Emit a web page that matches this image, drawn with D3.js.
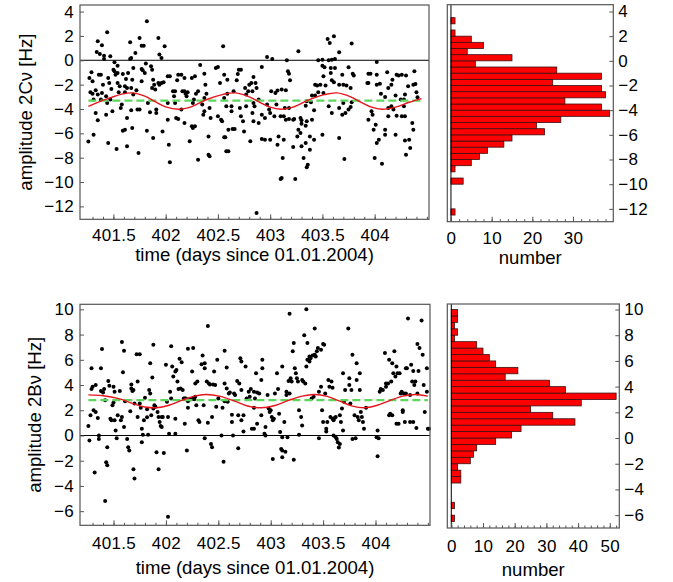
<!DOCTYPE html>
<html>
<head>
<meta charset="utf-8">
<style>
body { margin: 0; background: #fff; }
svg { font-family: "Liberation Sans", Arial, sans-serif; }
.frame { fill: none; stroke: #555; stroke-width: 1.2px; }
.axis path { display: none; }
.axis line { stroke: #555; }
.axis text { font-size: 17px; fill: #000; letter-spacing: 0.3px; }
.title { font-size: 18.6px; fill: #000; }
.dot { fill: #000; }
.fit { fill: none; stroke: #e8141c; stroke-width: 1.4px; }
.mean { fill: none; stroke: #5cd65c; stroke-width: 2.2px; stroke-dasharray: 8,4; }
.zero { stroke: #000; stroke-width: 1px; }
.bar { fill: #ff0000; stroke: #3a1010; stroke-width: 0.8px; }
</style>
</head>
<body>
<svg width="673" height="582"></svg>
<script src="https://cdn.jsdelivr.net/npm/d3@7"></script>
<script>
// ---- data ----
var timeTicks = [401.5, 402, 402.5, 403, 403.5, 404];

// amplitude 2C nu [Hz] vs time
var pointsC = [[401.27,-1.45],[401.29,-0.99],[401.30,-1.73],[401.28,-2.63],[401.30,-2.74],[401.33,-2.47],[401.31,-3.23],[401.33,-4.33],[401.35,-4.93],[401.31,-6.11],[401.26,-6.68],[401.34,0.68],[401.35,1.56],[401.37,0.52],[401.36,-1.18],[401.38,-1.18],[401.35,-2.82],[401.39,1.23],[401.41,0.38],[401.41,0.11],[401.44,2.30],[401.47,0.33],[401.40,-2.00],[401.39,-2.68],[401.38,-3.23],[401.43,-2.96],[401.45,-1.45],[401.46,-1.86],[401.44,-3.51],[401.43,-4.47],[401.45,-6.79],[401.49,-4.19],[401.50,-0.77],[401.51,-0.16],[401.51,-0.90],[401.52,-1.18],[401.48,-2.36],[401.47,-3.23],[401.53,-7.29],[401.54,-0.44],[401.54,-1.04],[401.54,-1.86],[401.56,-2.14],[401.55,-2.63],[401.58,-3.64],[401.57,-3.92],[401.59,-1.12],[401.61,-2.14],[401.63,-2.27],[401.61,-2.63],[401.59,-5.78],[401.61,-5.70],[401.63,-4.74],[401.63,-7.07],[401.66,1.48],[401.66,0.11],[401.67,0.19],[401.64,-1.04],[401.62,-1.53],[401.69,-0.63],[401.68,-1.59],[401.67,-2.27],[401.69,-2.82],[401.67,-4.11],[401.68,-5.56],[401.71,0.60],[401.72,-2.47],[401.73,-4.05],[401.74,-7.62],[401.75,1.84],[401.75,-4.05],[401.77,1.20],[401.79,1.20],[401.77,-0.71],[401.78,-0.82],[401.77,-1.73],[401.80,-1.04],[401.81,-0.27],[401.82,3.20],[401.82,-5.78],[401.83,-3.51],[401.85,-4.27],[401.86,-0.49],[401.87,-0.77],[401.88,-1.59],[401.89,-2.00],[401.87,-2.27],[401.90,-2.41],[401.91,-4.05],[401.91,-4.33],[401.93,1.84],[401.94,0.47],[401.96,0.19],[401.93,-1.86],[401.94,-2.00],[401.96,-1.86],[401.97,-5.84],[401.98,-1.81],[401.99,1.15],[401.88,-6.38],[402.02,-1.32],[402.04,-1.32],[402.02,-3.51],[402.02,-4.88],[402.03,-6.93],[402.04,-8.38],[402.07,-2.55],[402.09,-2.55],[402.08,-2.96],[402.09,-3.51],[402.10,-4.74],[402.12,-4.82],[402.11,-1.64],[402.12,-1.18],[402.15,-1.18],[402.18,-1.45],[402.16,-2.55],[402.15,-4.05],[402.18,-2.55],[402.19,-2.74],[402.20,-2.96],[402.18,-5.15],[402.21,-2.63],[402.23,-6.66],[402.25,-5.42],[402.26,-5.56],[402.28,-5.42],[402.26,-3.51],[402.27,-3.23],[402.25,-1.45],[402.28,-1.32],[402.29,-2.74],[402.31,-2.55],[402.33,-0.38],[402.31,-8.16],[402.37,-1.10],[402.35,-3.64],[402.36,-4.47],[402.38,-2.00],[402.39,-2.74],[402.41,-6.25],[402.41,-7.75],[402.42,-7.89],[402.43,-4.74],[402.42,-3.92],[402.37,-3.10],[402.37,-4.19],[402.48,-0.63],[402.50,-0.55],[402.52,-1.86],[402.50,-4.60],[402.53,-4.88],[402.54,-5.01],[402.55,1.15],[402.56,-6.33],[402.57,-6.33],[402.58,-7.48],[402.60,-7.48],[402.56,-1.18],[402.58,-3.78],[402.56,-3.10],[402.59,-1.59],[402.59,-2.74],[402.60,-5.70],[402.63,-3.78],[402.63,-4.19],[402.64,-5.64],[402.66,-5.64],[402.65,-2.55],[402.68,-1.64],[402.69,-1.12],[402.70,-0.77],[402.72,-0.77],[402.71,-3.92],[402.72,-4.60],[402.74,-5.01],[402.75,-5.84],[402.76,-2.27],[402.77,-2.82],[402.77,-3.78],[402.79,-2.55],[402.80,-2.00],[402.81,-6.66],[402.82,-1.86],[402.83,-4.33],[402.84,-5.01],[402.84,-3.51],
  [403.55,1.75],[403.57,1.42],[403.61,1.97],[403.66,0.66],[403.78,1.37],[403.27,0.74],[402.97,0.27],[403.02,0.11],[403.16,0.00],[403.46,0.00],[403.50,0.05],[403.56,0.00],[403.59,0.05],[403.62,0.11],[404.02,-0.14],[402.92,-0.55],[402.84,-1.37],[402.86,-1.86],[403.17,-0.90],[403.18,-1.10],[403.19,-1.64],[403.15,-2.47],[403.50,-0.44],[403.52,-0.58],[403.51,-1.32],[403.53,-2.08],[403.48,-2.00],[403.45,-2.08],[403.43,-2.00],[403.58,-1.04],[403.59,-1.64],[403.61,-1.81],[403.62,-0.63],[403.66,-2.00],[403.69,-1.18],[403.70,-2.00],[403.73,-2.08],[403.75,-0.58],[403.79,-1.10],[403.80,-1.26],[403.77,-2.27],[403.58,-0.63],[403.94,-1.10],[403.96,-1.10],[404.02,-1.18],[404.12,-0.99],[403.93,-1.86],[403.94,-1.86],[404.02,-2.00],[404.05,-1.92],[404.06,-2.74],[404.10,-3.01],[404.13,-2.27],[404.16,-2.00],[404.17,-1.59],[404.21,-1.18],[404.23,-1.26],[404.26,-1.18],[404.30,-1.26],[404.38,-0.90],[404.37,-2.00],[404.39,-1.95],[404.40,-2.63],[404.41,-3.04],[404.32,-2.14],[404.29,-2.82],[404.28,-3.23],[404.25,-3.23],[404.20,-2.90],[402.83,-2.55],[402.87,-2.27],[402.89,-3.23],[402.85,-3.78],[402.92,-4.47],[402.89,-5.15],[402.95,-4.74],[402.97,-3.64],[402.99,-4.05],[403.00,-4.33],[403.01,-2.55],[403.05,-2.68],[403.07,-2.49],[403.11,-2.41],[403.06,-3.64],[403.04,-4.60],[403.10,-4.60],[403.13,-4.60],[403.14,-3.92],[403.18,-3.92],[403.15,-4.88],[403.18,-4.82],[403.22,-4.88],[403.23,-4.82],[403.29,-4.74],[403.30,-4.93],[403.35,-5.01],[403.40,-4.88],[403.42,-4.11],[403.34,-3.73],[403.35,-3.37],[403.39,-3.45],[403.40,-2.90],[403.43,-2.90],[403.46,-2.63],[403.51,-2.68],[403.30,-5.21],[403.34,-5.37],[403.27,-5.70],[403.29,-5.97],[403.26,-6.25],[403.34,-6.79],[403.38,-6.25],[403.42,-6.52],[402.92,-6.47],[402.95,-6.52],[403.00,-6.52],[403.07,-6.93],[403.08,-6.25],[403.13,-6.52],[403.12,-8.03],[403.10,-9.75],[403.11,-9.67],[403.24,-9.75],[403.22,-7.12],[403.30,-7.07],[403.38,-7.34],[403.32,-8.03],[403.36,-8.58],[403.35,-8.79],[403.71,-8.11],[403.66,-6.38],[403.50,-6.11],[403.56,-3.78],[403.59,-4.33],[403.66,-3.92],[403.69,-4.47],[403.72,-4.33],[403.75,-4.05],[403.77,-3.84],[403.78,-3.45],[403.70,-3.51],[403.94,-4.88],[403.97,-4.19],[403.98,-4.47],[403.99,-5.70],[404.01,-5.29],[404.02,-6.79],[404.04,-6.52],[404.07,-8.49],[404.00,-8.03],[404.10,-6.11],[404.10,-5.70],[404.13,-4.60],[404.13,-3.92],[404.16,-3.78],[404.18,-4.05],[404.20,-6.11],[404.21,-4.55],[404.26,-4.60],[404.28,-3.78],[404.29,-4.60],[404.29,-6.58],[404.30,-7.75],[404.33,-6.52],[404.34,-7.21],[404.36,-5.15],[404.37,-5.70],[402.87,-12.55]];

var fitC = [[401.26,-3.78],[401.35,-3.45],[401.48,-3.05],[401.58,-2.78],[401.68,-2.68],[401.80,-2.95],[401.90,-3.40],[402.00,-3.82],[402.12,-4.02],[402.25,-3.80],[402.40,-3.20],[402.55,-2.80],[402.67,-2.68],[402.80,-3.00],[402.90,-3.45],[403.00,-3.85],[403.10,-4.02],[403.22,-3.85],[403.37,-3.25],[403.52,-2.82],[403.64,-2.68],[403.77,-3.00],[403.87,-3.45],[403.97,-3.85],[404.07,-4.02],[404.20,-3.85],[404.33,-3.45],[404.45,-3.15]];
var meanC = -3.32;

var binsC   = [-12.5,-12,-11.5,-11,-10.5,-10,-9.5,-9,-8.5,-8,-7.5,-7,-6.5,-6,-5.5,-5,-4.5,-4,-3.5,-3,-2.5,-2,-1.5,-1,-0.5,0,0.5,1,1.5,2,2.5,3];
var countsC = [1,0,0,0,0,3,0,1,5,7,9,13,15,23,21,27,39,37,28,38,37,25,37,26,6,15,4,8,5,1,0,1];

// amplitude 2B nu [Hz] vs time
var pointsB = [[401.26,0.75],[401.28,1.60],[401.29,3.68],[401.29,5.33],[401.31,2.00],[401.30,3.87],[401.33,1.87],[401.33,4.00],[401.35,1.39],[401.27,-0.40],[401.36,0.00],[401.36,-0.27],[401.32,-2.93],[401.38,5.33],[401.39,6.85],[401.38,3.52],[401.40,3.41],[401.41,3.68],[401.42,2.80],[401.42,-5.20],[401.44,-0.93],[401.43,-2.13],[401.44,-2.35],[401.45,4.32],[401.46,3.95],[401.47,1.33],[401.48,1.20],[401.50,2.61],[401.50,3.87],[401.51,3.47],[401.49,2.40],[401.51,1.20],[401.52,0.40],[401.53,-0.21],[401.54,1.60],[401.56,3.52],[401.57,1.20],[401.58,1.47],[401.58,7.41],[401.59,5.01],[401.60,6.72],[401.60,0.67],[401.61,2.72],[401.63,-0.27],[401.64,-0.93],[401.65,-1.20],[401.66,1.92],[401.67,4.05],[401.67,3.73],[401.68,3.52],[401.69,3.60],[401.69,-2.67],[401.70,-3.41],[401.70,2.53],[401.72,6.45],[401.73,1.47],[401.73,4.27],[401.75,6.45],[401.75,2.53],[401.76,2.19],[401.77,0.53],[401.77,-0.53],[401.78,0.05],[401.79,1.20],[401.80,2.99],[401.82,2.08],[401.82,1.44],[401.83,0.05],[401.84,3.60],[401.85,5.73],[401.85,3.33],[401.86,1.60],[401.87,4.59],[401.88,2.13],[401.89,2.40],[401.88,7.20],[401.90,2.27],[401.91,-1.33],[401.92,1.87],[401.93,-2.67],[401.93,1.47],[401.94,1.07],[401.95,0.75],[401.96,0.67],[401.96,1.47],[401.97,1.47],[401.98,-1.39],[402.00,5.60],[402.01,2.67],[402.02,1.47],[402.02,-6.45],[402.03,0.13],[402.04,3.47],[402.05,7.07],[402.05,2.93],[402.06,5.47],[402.07,4.67],[402.09,5.07],[402.09,0.13],[402.09,1.33],[402.10,5.20],[402.11,4.27],[402.12,3.68],[402.13,6.08],[402.15,5.81],[402.14,3.73],[402.16,3.60],[402.17,2.93],[402.18,0.93],[402.18,2.93],[402.19,2.93],[402.20,-1.20],[402.21,2.19],[402.21,2.72],[402.21,6.88],[402.23,2.88],[402.24,2.88],[402.25,5.07],[402.26,6.93],[402.26,2.93],[402.27,2.88],[402.28,3.07],[402.28,4.13],[402.29,2.40],[402.30,4.27],[402.31,1.20],[402.32,1.07],[402.34,5.65],[402.35,6.35],[402.36,2.40],[402.37,5.73],[402.37,5.33],[402.37,-0.21],[402.39,4.27],[402.40,8.67],[402.41,4.13],[402.40,1.01],[402.42,4.05],[402.43,-0.67],[402.44,-0.93],[402.44,1.47],[402.45,4.05],[402.46,5.07],[402.47,4.00],[402.48,2.27],[402.49,6.00],[402.50,2.93],[402.53,0.00],[402.54,2.19],[402.55,-2.08],[402.56,4.13],[402.56,6.72],[402.56,2.72],[402.58,5.39],[402.58,3.73],[402.59,2.67],[402.60,3.33],[402.61,3.41],[402.63,1.65],[402.63,1.07],[402.64,0.00],[402.65,3.33],[402.66,3.20],[402.68,4.32],[402.69,1.60],[402.69,-1.01],[402.70,4.13],[402.71,6.13],[402.72,5.87],[402.72,3.60],[402.72,1.20],[402.74,0.32],[402.74,1.60],[402.76,5.47],[402.77,2.93],[402.79,3.47],[402.80,3.07],[402.81,3.68],[402.82,0.53],[402.84,2.19],[402.85,2.93],
  [402.84,3.47],[402.87,3.41],[402.89,3.33],[402.91,4.40],[402.92,5.33],[402.92,6.00],[402.86,4.93],[402.84,0.53],[402.87,0.93],[402.91,1.60],[402.94,0.13],[402.95,0.67],[402.95,0.00],[402.97,3.20],[403.00,2.00],[402.99,1.87],[402.98,2.13],[403.01,1.47],[403.02,1.20],[403.02,-1.87],[403.03,1.33],[403.04,3.33],[403.06,4.93],[403.07,3.68],[403.08,1.73],[403.09,0.27],[403.10,-1.07],[403.11,-1.20],[403.11,5.47],[403.11,-0.13],[403.11,-1.73],[403.14,-1.28],[403.13,1.07],[403.15,3.47],[403.15,3.20],[403.17,4.32],[403.16,-0.13],[403.18,9.65],[403.18,3.33],[403.19,4.53],[403.20,4.27],[403.21,6.67],[403.22,7.33],[403.22,-1.92],[403.23,5.33],[403.24,4.93],[403.25,4.53],[403.26,4.27],[403.27,2.00],[403.27,0.05],[403.29,1.47],[403.30,0.80],[403.30,4.40],[403.31,4.27],[403.32,7.95],[403.34,10.00],[403.33,4.13],[403.34,5.47],[403.35,7.33],[403.35,6.00],[403.37,5.87],[403.37,6.27],[403.38,6.13],[403.39,2.93],[403.40,6.35],[403.41,3.07],[403.42,8.48],[403.42,6.40],[403.43,6.27],[403.44,6.67],[403.45,6.93],[403.46,-0.21],[403.46,3.47],[403.48,3.87],[403.48,6.80],[403.49,2.00],[403.50,7.25],[403.50,1.07],[403.51,7.20],[403.52,3.33],[403.53,0.32],[403.53,0.53],[403.54,1.07],[403.55,4.40],[403.56,3.87],[403.57,1.47],[403.58,4.27],[403.59,1.33],[403.59,3.79],[403.60,0.00],[403.60,1.20],[403.61,1.39],[403.62,-0.13],[403.62,1.47],[403.63,-0.27],[403.64,-0.53],[403.65,-0.96],[403.66,1.60],[403.66,-0.67],[403.67,1.07],[403.68,2.13],[403.69,0.40],[403.69,4.93],[403.70,2.67],[403.71,3.60],[403.74,8.48],[403.75,4.53],[403.75,4.00],[403.76,2.53],[403.77,3.60],[403.78,-0.27],[403.78,6.40],[403.80,1.60],[403.81,-0.21],[403.82,4.40],[403.82,5.73],[403.83,1.47],[403.84,1.20],[403.85,4.93],[403.85,3.60],[403.86,1.87],[403.87,1.47],[403.88,1.07],[403.89,0.53],[403.91,2.19],[404.02,0.40],[404.01,-0.13],[404.03,-0.21],[404.02,-1.65],[404.04,3.47],[404.05,3.68],[404.07,3.60],[404.09,6.53],[404.10,3.87],[404.10,4.13],[404.12,4.13],[404.13,1.60],[404.13,6.00],[404.14,1.73],[404.15,4.27],[404.16,5.73],[404.16,1.60],[404.17,4.93],[404.18,6.67],[404.19,4.67],[404.20,0.93],[404.20,5.47],[404.21,4.93],[404.22,0.93],[404.23,4.93],[404.24,3.33],[404.25,3.47],[404.26,1.87],[404.26,2.00],[404.27,3.33],[404.28,1.07],[404.29,5.33],[404.29,3.33],[404.30,5.33],[404.31,9.28],[404.33,1.07],[404.33,3.20],[404.34,5.60],[404.35,4.27],[404.36,5.12],[404.36,1.07],[404.37,4.00],[404.38,4.27],[404.39,0.59],[404.40,7.25],[404.40,3.33],[404.41,5.12],[404.42,6.93],[404.44,9.12],[404.45,6.40],[404.46,4.00],[404.47,1.87],[404.49,5.33],[404.49,3.47],[404.50,0.53],[404.51,0.53]];

var fitB = [[401.26,3.22],[401.40,3.15],[401.55,2.92],[401.68,2.55],[401.80,2.26],[401.91,2.20],[402.03,2.40],[402.15,2.78],[402.27,3.12],[402.38,3.25],[402.52,3.10],[402.65,2.74],[402.78,2.34],[402.91,2.20],[403.04,2.38],[403.17,2.78],[403.30,3.12],[403.42,3.25],[403.54,3.10],[403.66,2.72],[403.78,2.33],[403.89,2.20],[404.01,2.38],[404.13,2.75],[404.26,3.12],[404.38,3.25],[404.50,3.12]];
var meanB = 2.8;

var binsB   = [-6.5,-6,-5.5,-5,-4.5,-4,-3.5,-3,-2.5,-2,-1.5,-1,-0.5,0,0.5,1,1.5,2,2.5,3,3.5,4,4.5,5,5.5,6,6.5,7,7.5,8,8.5,9,9.5];
var countsB = [1,0,1,0,0,0,3,3,2,6,7,8,14,19,22,39,32,25,41,52,36,31,17,21,14,12,10,8,1,2,1,2,2];

var binWidth = 0.5;

// ---- layout ----
var svg = d3.select("svg");
var timeDomain = [401.18, 404.52];

var panels = [
  { points: pointsC, fit: fitC, mean: meanC, bins: binsC, counts: countsC,
    label: "amplitude 2C\u03bd [Hz]", labelX: 31.5, pad: 10,
    sc: { left: 80, right: 429, top: 5, bottom: 219.3, y: [-13.06, 4.54], yTicks: d3.range(-12, 5, 2) },
    hi: { left: 447.3, right: 613.3, top: 4.7, bottom: 221.7, x: [-0.9, 39.9], y: [-13.04, 4.55],
          xTicks: [0, 10, 20, 30], yTicks: d3.range(-12, 5, 2) },
    titleY: 261, numberY: 264 },
  { points: pointsB, fit: fitB, mean: meanB, bins: binsB, counts: countsB,
    label: "amplitude 2B\u03bd [Hz]", labelX: 40.5, pad: 12,
    sc: { left: 80, right: 430, top: 304.3, bottom: 525.3, y: [-7.12, 10.4], yTicks: d3.range(-6, 11, 2) },
    hi: { left: 447.3, right: 619.3, top: 304, bottom: 528, x: [-1.26, 53], y: [-7.0, 10.43],
          xTicks: [0, 10, 20, 30, 40, 50], yTicks: d3.range(-6, 11, 2) },
    titleY: 574, numberY: 576 }
];

var intFmt = d3.format("d");

panels.forEach(function(p) {
  var s = p.sc, h = p.hi;
  var x = d3.scaleLinear().domain(timeDomain).range([s.left, s.right]);
  var y = d3.scaleLinear().domain(s.y).range([s.bottom, s.top]);

  var g = svg.append("g");

  g.append("line").attr("class", "zero")
      .attr("x1", s.left).attr("x2", s.right)
      .attr("y1", y(0)).attr("y2", y(0));

  g.append("g").selectAll("circle")
    .data(p.points)
    .enter().append("circle")
      .attr("class", "dot")
      .attr("cx", function(d) { return x(d[0]); })
      .attr("cy", function(d) { return y(d[1]); })
      .attr("r", 2);

  var t0 = p.fit[0][0], t1 = p.fit[p.fit.length - 1][0];
  g.append("line").attr("class", "mean")
      .attr("x1", x(t0)).attr("x2", x(t1))
      .attr("y1", y(p.mean)).attr("y2", y(p.mean));

  g.append("path").datum(p.fit)
      .attr("class", "fit")
      .attr("d", d3.line()
          .x(function(d) { return x(d[0]); })
          .y(function(d) { return y(d[1]); })
          .curve(d3.curveCatmullRom));

  // minor time ticks every 0.1 day
  g.append("g").attr("class", "axis")
      .attr("transform", "translate(0," + s.bottom + ")")
      .call(d3.axisBottom(x).tickValues(d3.range(4013, 4046).map(function(k) { return k / 10; }))
          .tickSize(-2.5).tickFormat(""));
  g.append("g").attr("class", "axis")
      .attr("transform", "translate(0," + s.bottom + ")")
      .call(d3.axisBottom(x).tickValues(timeTicks).tickSize(-5).tickPadding(p.pad)
          .tickFormat(function(d) { return String(d); }));

  g.append("g").attr("class", "axis")
      .attr("transform", "translate(" + s.left + ",0)")
      .call(d3.axisLeft(y).tickValues(s.yTicks).tickSize(-4).tickPadding(6).tickFormat(intFmt));

  g.append("rect").attr("class", "frame")
      .attr("x", s.left).attr("y", s.top)
      .attr("width", s.right - s.left).attr("height", s.bottom - s.top);

  g.append("text").attr("class", "title")
      .attr("transform", "translate(" + p.labelX + "," + ((s.top + s.bottom) / 2) + ") rotate(-90)")
      .attr("text-anchor", "middle")
      .text(p.label);

  g.append("text").attr("class", "title")
      .attr("x", (s.left + s.right) / 2).attr("y", p.titleY)
      .attr("text-anchor", "middle")
      .text("time (days since 01.01.2004)");

  // histogram
  var hx = d3.scaleLinear().domain(h.x).range([h.left, h.right]);
  var hy = d3.scaleLinear().domain(h.y).range([h.bottom, h.top]);
  var hg = svg.append("g");

  hg.append("g").selectAll("rect")
    .data(p.bins.map(function(b, i) { return { lo: b, n: p.counts[i] }; })
      .filter(function(d) { return d.n > 0; }))
    .enter().append("rect")
      .attr("class", "bar")
      .attr("x", hx(0))
      .attr("y", function(d) { return hy(d.lo + binWidth); })
      .attr("width", function(d) { return hx(d.n) - hx(0); })
      .attr("height", function(d) { return hy(d.lo) - hy(d.lo + binWidth); });

  hg.append("line").attr("class", "zero")
      .attr("x1", hx(0)).attr("x2", hx(0))
      .attr("y1", h.top).attr("y2", h.bottom);

  hg.append("g").attr("class", "axis")
      .attr("transform", "translate(0," + h.bottom + ")")
      .call(d3.axisBottom(hx).tickValues(d3.range(0, h.x[1], 2)).tickSize(-2.5).tickFormat(""));
  hg.append("g").attr("class", "axis")
      .attr("transform", "translate(0," + h.bottom + ")")
      .call(d3.axisBottom(hx).tickValues(h.xTicks).tickSize(-5).tickPadding(p.pad).tickFormat(intFmt));
  hg.append("g").attr("class", "axis")
      .attr("transform", "translate(" + h.right + ",0)")
      .call(d3.axisRight(hy).tickValues(h.yTicks).tickSize(-4).tickPadding(5).tickFormat(intFmt));

  hg.append("rect").attr("class", "frame")
      .attr("x", h.left).attr("y", h.top)
      .attr("width", h.right - h.left).attr("height", h.bottom - h.top);

  hg.append("text").attr("class", "title")
      .attr("x", (h.left + h.right) / 2).attr("y", p.numberY)
      .attr("text-anchor", "middle")
      .text("number");
});
</script>
</body>
</html>
